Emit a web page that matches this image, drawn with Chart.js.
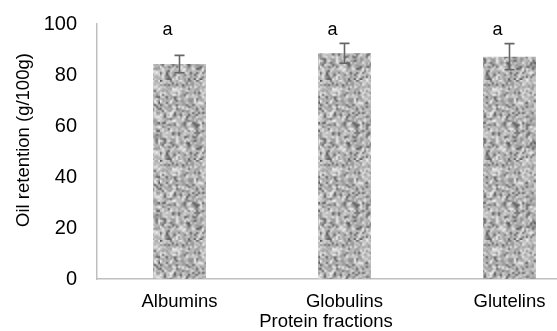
<!DOCTYPE html>
<html>
<head>
<meta charset="utf-8">
<script src="https://cdn.jsdelivr.net/npm/chart.js@4"></script>
<style>
    html, body { margin: 0; padding: 0; background: #fff; overflow: hidden; }
    #wrap { width: 557px; height: 331px; overflow: hidden; }
</style>
</head>
<body>
<div id="wrap"><canvas id="barChart" width="600" height="331"></canvas></div>
<script>
//============================================= Data =============================================//
const categories = ['Albumins', 'Globulins', 'Glutelins'];
const oilRetention = [84.3, 88.5, 87.2];
const errors = [3.4, 3.9, 5.1];
const letters = ['a', 'a', 'a'];
const yTicks = [0, 20, 40, 60, 80, 100];

//============================================= Granite pattern =============================================//
function granitePattern() {
    let seed = 12345;
    const rnd = () => {
        seed = (seed * 1664525 + 1013904223) >>> 0;
        return seed / 4294967296;
    };
    // small noise tile, scaled up with smoothing to get soft speckles
    const small = document.createElement('canvas');
    small.width = 40;
    small.height = 40;
    const sc = small.getContext('2d');
    const img = sc.createImageData(40, 40);
    for (let i = 0; i < 40 * 40; i++) {
        const r = rnd();
        let g;
        if (r < 0.12) g = 75 + rnd() * 40;
        else if (r < 0.4) g = 140 + rnd() * 30;
        else if (r < 0.78) g = 175 + rnd() * 30;
        else g = 210 + rnd() * 40;
        img.data[i * 4] = g;
        img.data[i * 4 + 1] = g;
        img.data[i * 4 + 2] = g;
        img.data[i * 4 + 3] = 255;
    }
    sc.putImageData(img, 0, 0);

    const tile = document.createElement('canvas');
    tile.width = 80;
    tile.height = 80;
    const c = tile.getContext('2d');
    c.imageSmoothingEnabled = true;
    c.drawImage(small, 0, 0, 80, 80);
    return c.createPattern(tile, 'repeat');
}

//============================================= Plugins =============================================//
const errorBars = {
    id: 'errorBars',
    afterDatasetsDraw(chart) {
        const {ctx, scales: {y}} = chart;
        const meta = chart.getDatasetMeta(0);
        ctx.save();
        ctx.strokeStyle = '#666';
        ctx.lineWidth = 1.6;
        meta.data.forEach((bar, i) => {
            const top = y.getPixelForValue(oilRetention[i] + errors[i]);
            const bottom = y.getPixelForValue(oilRetention[i] - errors[i]);
            ctx.beginPath();
            ctx.moveTo(bar.x, top);
            ctx.lineTo(bar.x, bottom);
            ctx.moveTo(bar.x - 5, top);
            ctx.lineTo(bar.x + 5, top);
            ctx.moveTo(bar.x - 5, bottom);
            ctx.lineTo(bar.x + 5, bottom);
            ctx.stroke();
        });
        ctx.fillStyle = '#000';
        ctx.font = '18px "Liberation Sans", Arial, sans-serif';
        ctx.textAlign = 'center';
        ctx.textBaseline = 'alphabetic';
        meta.data.forEach((bar, i) => {
            ctx.fillText(letters[i], bar.x - 12, y.getPixelForValue(100) + 11);
        });
        ctx.restore();
    }
};

const axisTitles = {
    id: 'axisTitles',
    afterDraw(chart) {
        const {ctx} = chart;
        ctx.save();
        ctx.fillStyle = '#000';
        ctx.font = '18.5px "Liberation Sans", Arial, sans-serif';
        ctx.textAlign = 'center';
        ctx.textBaseline = 'middle';
        ctx.fillText('Protein fractions', 326, 322);
        ctx.translate(24, 140);
        ctx.rotate(-Math.PI / 2);
        ctx.fillText('Oil retention (g/100g)', 0, 0);
        ctx.restore();
    }
};

//============================================= Bar chart =============================================//
const barConfig = {
    type: 'bar',
    data: {
        labels: categories,
        datasets: [{
            data: oilRetention,
            backgroundColor: granitePattern(),
            borderWidth: 0,
            barPercentage: 0.32,
            categoryPercentage: 1
        }]
    },
    options: {
        responsive: false,
        animation: false,
        devicePixelRatio: 1,
        layout: {
            padding: {top: 24, right: 8, left: 0, bottom: 0}
        },
        plugins: {
            legend: {display: false},
            tooltip: {enabled: false}
        },
        scales: {
            x: {
                grid: {display: false, drawTicks: false},
                border: {color: '#bfbfbf', width: 1.5},
                ticks: {
                    color: '#000',
                    padding: 12,
                    maxRotation: 0,
                    font: {family: '"Liberation Sans", Arial, sans-serif', size: 18.5}
                },
                afterFit(scale) {
                    scale.height = 52;
                    scale.paddingLeft = 0;
                    scale.paddingRight = 0;
                }
            },
            y: {
                min: 0,
                max: 100,
                grid: {display: false, drawTicks: false},
                border: {color: '#bfbfbf', width: 1.5},
                afterBuildTicks(scale) { scale.ticks = yTicks.map(v => ({value: v})); },
                ticks: {
                    color: '#000',
                    padding: 20,
                    font: {family: '"Liberation Sans", Arial, sans-serif', size: 20}
                },
                afterFit(scale) {
                    scale.width = 97;
                    scale.paddingTop = 0;
                    scale.paddingBottom = 0;
                }
            }
        }
    },
    plugins: [errorBars, axisTitles]
};

new Chart(document.getElementById('barChart'), barConfig);
</script>
</body>
</html>
